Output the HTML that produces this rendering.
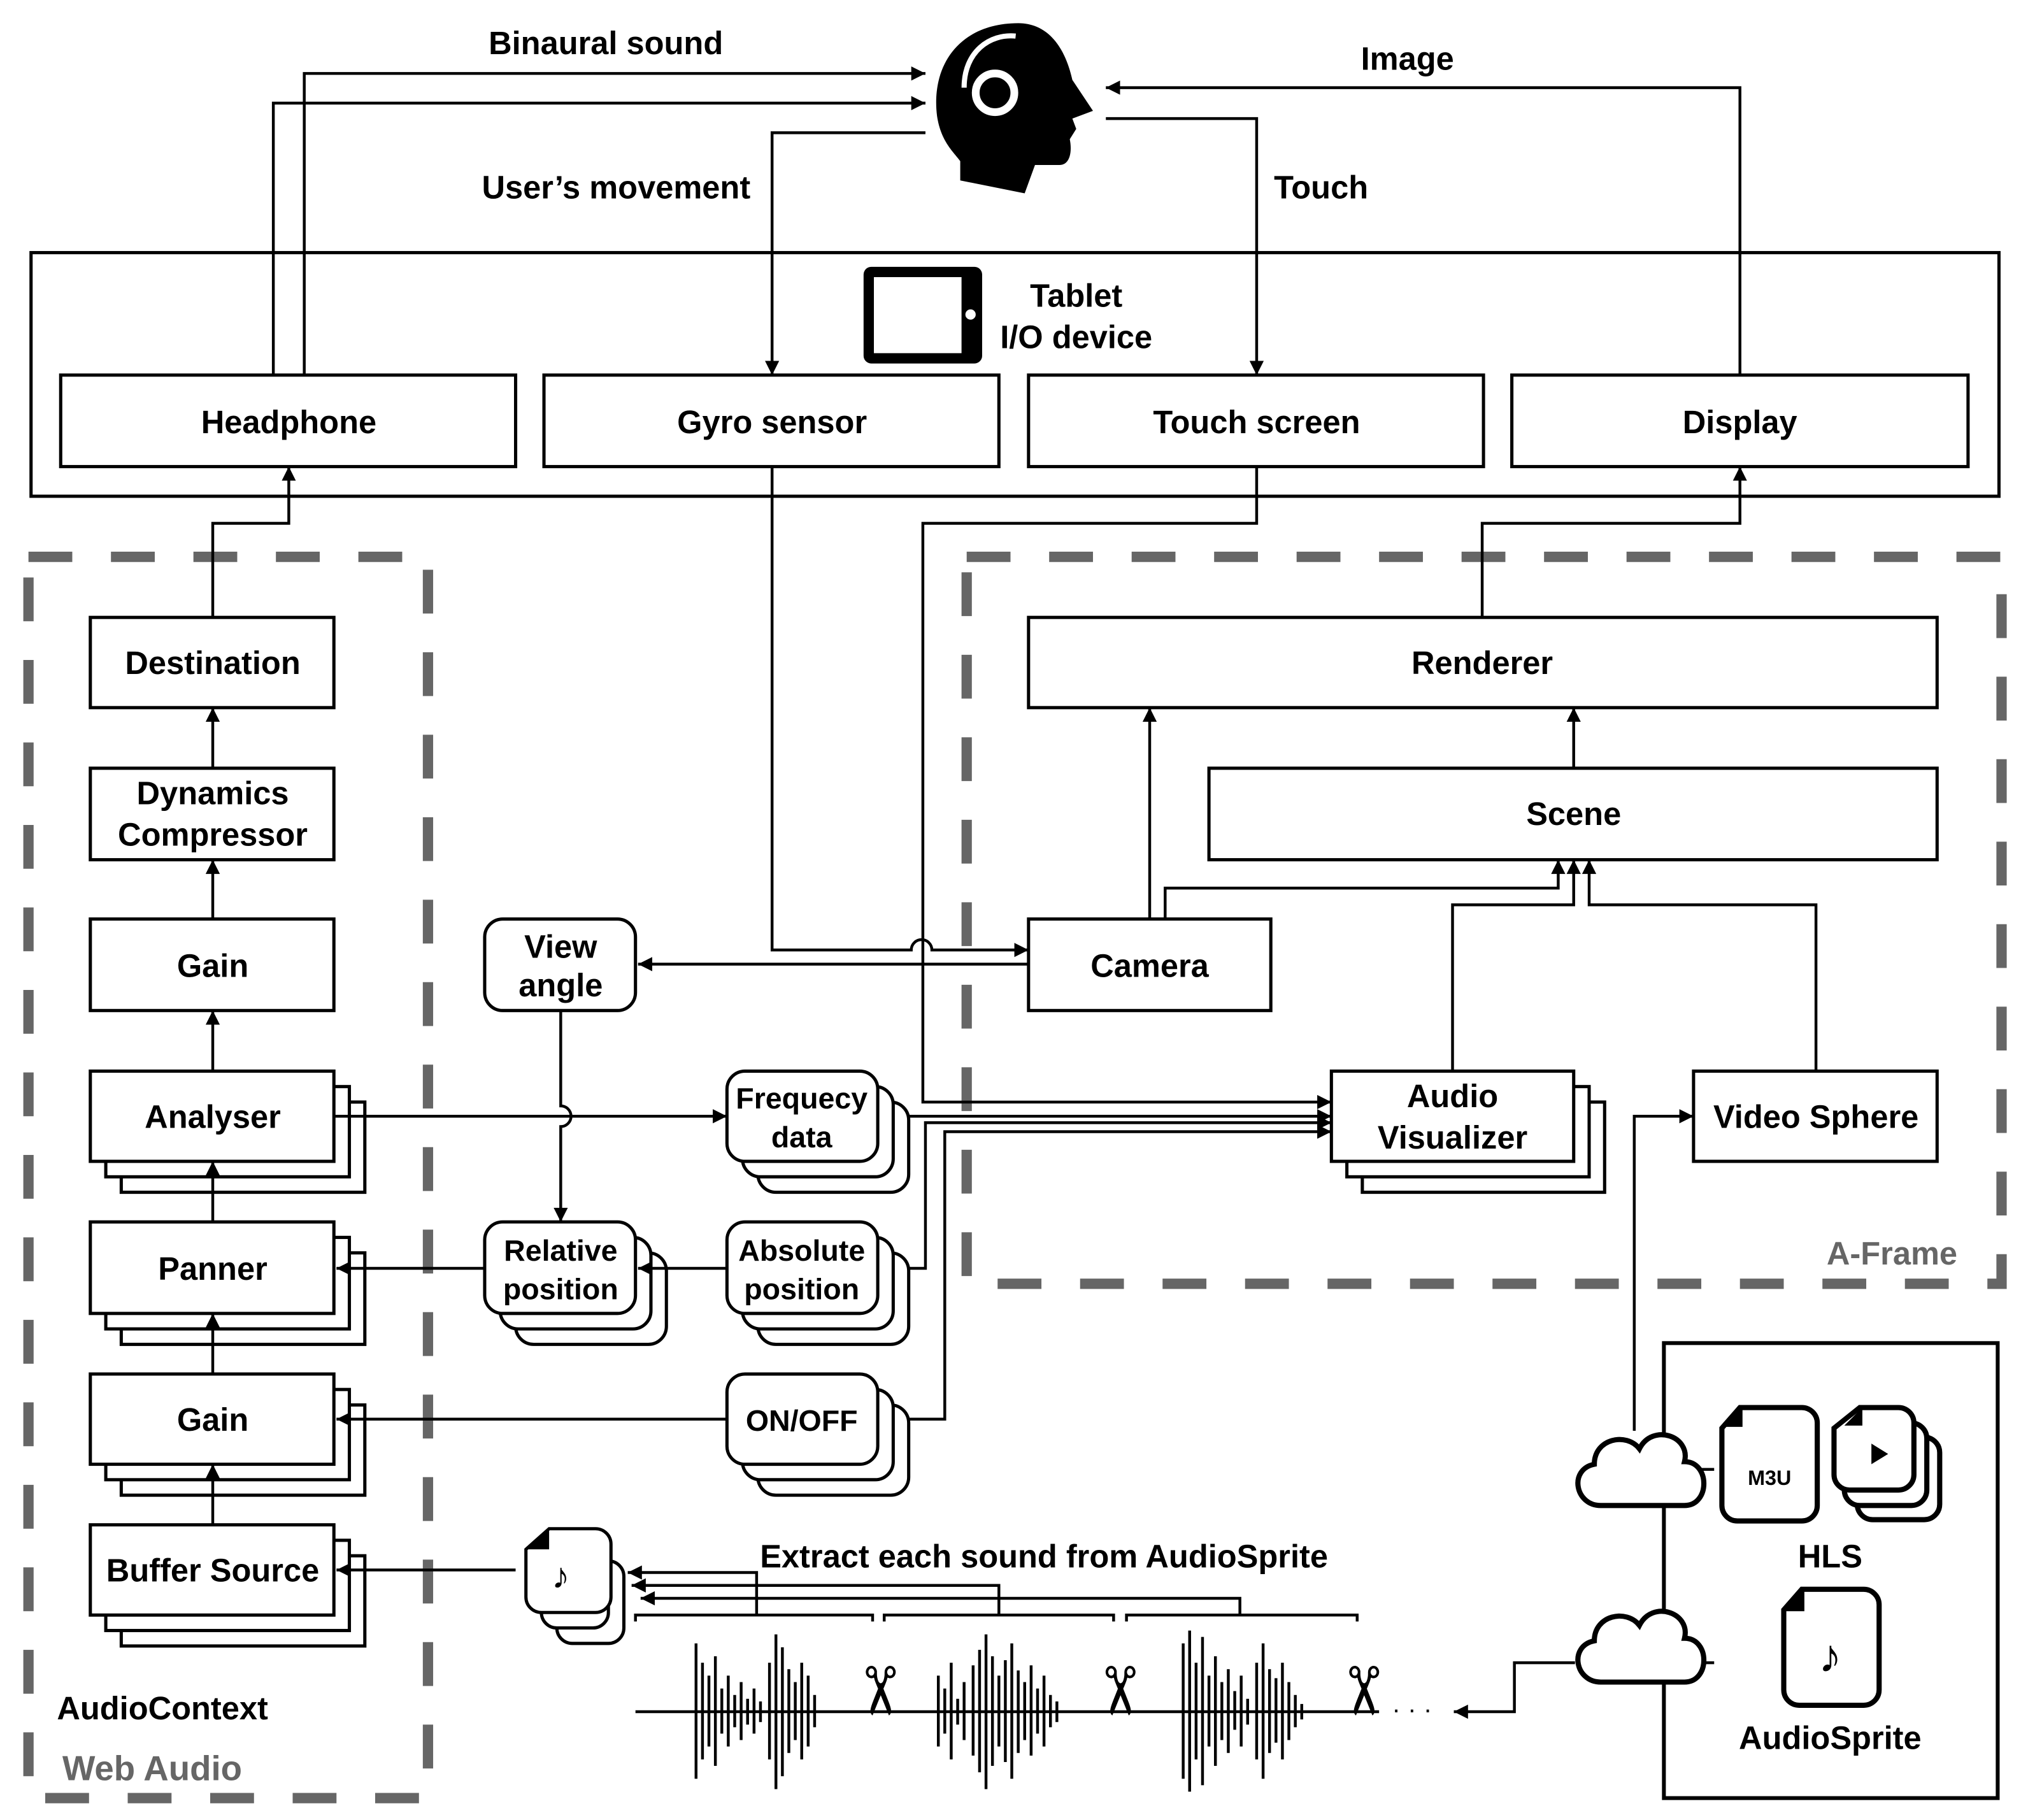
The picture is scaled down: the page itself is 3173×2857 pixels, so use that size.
<!DOCTYPE html>
<html><head><meta charset="utf-8"><style>
html,body{margin:0;padding:0;background:#fff}
svg{display:block}
text{font-family:"Liberation Sans",Arial,sans-serif;font-weight:bold;font-size:25px;fill:#000}
</style></head><body>
<svg width="3173" height="2857" viewBox="0 0 1568 1412" xmlns="http://www.w3.org/2000/svg">
<defs>
<marker id="a" viewBox="0 0 10 10" refX="10" refY="5" markerWidth="5" markerHeight="5" orient="auto"><path d="M0,0L10,5L0,10z" fill="#000"/></marker>
</defs>
<g fill="none" stroke="#000" stroke-width="2.5">
<rect x="24" y="196" width="1527" height="189"/>
<rect x="47" y="291" width="353" height="71" fill="#fff"/>
<rect x="422" y="291" width="353" height="71" fill="#fff"/>
<rect x="798" y="291" width="353" height="71" fill="#fff"/>
<rect x="1173" y="291" width="354" height="71" fill="#fff"/>
</g>
<rect x="670" y="207" width="92" height="75" rx="6" fill="#000"/>
<rect x="678" y="215" width="68" height="59" fill="#fff"/>
<circle cx="753" cy="244" r="4" fill="#fff"/>
<g fill="none" stroke="#666" stroke-width="8" stroke-dasharray="34,30">
<rect x="22" y="432" width="310" height="963"/>
<rect x="750" y="432" width="803" height="564"/>
</g>
<path d="M790,18 C745,18 722,50 727,90 C730,110 740,118 745,125 L745,140 L795,150 L803,128 L822,128 C830,128 832,118 830,108 L835,100 L832,92 L848,86 L832,62 C826,35 812,18 790,18 Z" fill="#000"/>
<path d="M748,68 C748,40 768,26 788,28" fill="none" stroke="#fff" stroke-width="4"/>
<circle cx="772" cy="72" r="15" fill="none" stroke="#fff" stroke-width="6"/>
<!-- boxes -->
<g fill="#fff" stroke="#000" stroke-width="2.5">
<rect x="70" y="479" width="189" height="70"/>
<rect x="70" y="596" width="189" height="71"/>
<rect x="70" y="713" width="189" height="71"/>
<rect x="94" y="855" width="189" height="70"/><rect x="82" y="843" width="189" height="70"/><rect x="70" y="831" width="189" height="70"/>
<rect x="94" y="972" width="189" height="71"/><rect x="82" y="960" width="189" height="71"/><rect x="70" y="948" width="189" height="71"/>
<rect x="94" y="1090" width="189" height="70"/><rect x="82" y="1078" width="189" height="70"/><rect x="70" y="1066" width="189" height="70"/>
<rect x="94" y="1207" width="189" height="70"/><rect x="82" y="1195" width="189" height="70"/><rect x="70" y="1183" width="189" height="70"/>
<rect x="376" y="713" width="117" height="71" rx="14"/>
<rect x="588" y="855" width="117" height="70" rx="14"/><rect x="576" y="843" width="117" height="70" rx="14"/><rect x="564" y="831" width="117" height="70" rx="14"/>
<rect x="400" y="972" width="117" height="71" rx="14"/><rect x="388" y="960" width="117" height="71" rx="14"/><rect x="376" y="948" width="117" height="71" rx="14"/>
<rect x="588" y="972" width="117" height="71" rx="14"/><rect x="576" y="960" width="117" height="71" rx="14"/><rect x="564" y="948" width="117" height="71" rx="14"/>
<rect x="588" y="1090" width="117" height="70" rx="14"/><rect x="576" y="1078" width="117" height="70" rx="14"/><rect x="564" y="1066" width="117" height="70" rx="14"/>
<rect x="798" y="479" width="705" height="70"/>
<rect x="938" y="596" width="565" height="71"/>
<rect x="798" y="713" width="188" height="71"/>
<rect x="1057" y="855" width="188" height="70"/><rect x="1045" y="843" width="188" height="70"/><rect x="1033" y="831" width="188" height="70"/>
<rect x="1314" y="831" width="189" height="70"/>
<path d="M432,1211h40a12,12 0 0 1 12,12v40a12,12 0 0 1-12,12h-28a12,12 0 0 1-12-12z"/>
<path d="M420,1199h40a12,12 0 0 1 12,12v40a12,12 0 0 1-12,12h-28a12,12 0 0 1-12-12z"/>
<path d="M426,1186h36a12,12 0 0 1 12,12v41a12,12 0 0 1-12,12h-42a12,12 0 0 1-12-12v-37z"/>
</g>
<path d="M408,1202l18,-16v16z" fill="#000"/>
<text x="435" y="1232" text-anchor="middle" style="font-size:28px;font-weight:normal">♪</text>
<!-- connectors -->
<g fill="none" stroke="#000" stroke-width="2.2" marker-end="url(#a)">
<polyline points="236,291 236,57 718,57"/>
<polyline points="212,291 212,80 718,80"/>
<polyline points="718,103 599,103 599,291"/>
<polyline points="858,92 975,92 975,291"/>
<polyline points="1350,291 1350,68 858,68"/>
<polyline points="165,479 165,406 224,406 224,362"/>
<polyline points="1150,479 1150,406 1350,406 1350,362"/>
<path d="M599,362 L599,737 L707,737 A8,8 0 0 1 723,737 L798,737"/>
<path d="M975,362 L975,406 L716,406 L716,855 L1033,855"/>
<polyline points="892,713 892,549"/>
<polyline points="1221,596 1221,549"/>
<polyline points="904,713 904,689 1209,689 1209,667"/>
<polyline points="1127,831 1127,702 1221,702 1221,667"/>
<polyline points="1409,831 1409,702 1233,702 1233,667"/>
<polyline points="798,748 495,748"/>
<path d="M435,784 L435,858 A8,8 0 0 1 435,874 L435,948"/>
<polyline points="259,866 564,866"/>
<polyline points="705,866 1033,866"/>
<polyline points="705,984 718,984 718,871 1033,871"/>
<polyline points="705,1101 733,1101 733,878 1033,878"/>
<polyline points="376,984 261,984"/>
<polyline points="564,984 495,984"/>
<polyline points="564,1101 261,1101"/>
<polyline points="400,1218 261,1218"/>
<polyline points="165,596 165,549"/>
<polyline points="165,713 165,667"/>
<polyline points="165,831 165,784"/>
<polyline points="165,948 165,901"/>
<polyline points="165,1066 165,1019"/>
<polyline points="165,1183 165,1136"/>
<polyline points="587,1253 587,1220 487,1220"/>
<polyline points="775,1253 775,1230 490,1230"/>
<polyline points="962,1253 962,1240 497,1240"/>
<polyline points="1268,1110 1268,866 1314,866"/>
<polyline points="1222,1290 1175,1290 1175,1328 1128,1328"/>
</g>
<g fill="none" stroke="#000" stroke-width="2.2">
<polyline points="493,1258 493,1253 677,1253 677,1258"/>
<polyline points="686,1258 686,1253 864,1253 864,1258"/>
<polyline points="874,1258 874,1253 1053,1253 1053,1258"/>
<line x1="493" y1="1328" x2="1070" y2="1328"/>
<line x1="1315" y1="1140" x2="1330" y2="1140"/>
<line x1="1315" y1="1290" x2="1330" y2="1290"/>
</g>
<g stroke="#000" stroke-width="2.2">
<path d="M540,1275V1380M545,1290V1365M550,1300V1355M555,1285V1370M560,1310V1345M565,1300V1355M570,1315V1340M575,1305V1350M580,1318V1338M585,1310V1345M590,1320V1336M597,1290V1365M602,1268V1388M607,1278V1378M612,1295V1360M617,1305V1350M622,1290V1365M627,1300V1355M632,1315V1340"/>
<path d="M728,1300V1355M733,1310V1345M738,1290V1365M743,1318V1338M748,1305V1350M755,1292V1362M760,1280V1375M765,1268V1388M770,1285V1370M775,1300V1355M780,1288V1367M785,1275V1380M790,1296V1360M795,1305V1350M800,1292V1362M805,1310V1345M810,1300V1355M815,1315V1340M820,1320V1336"/>
<path d="M918,1275V1380M923,1265V1390M928,1290V1365M933,1270V1385M938,1300V1355M943,1285V1370M948,1305V1350M953,1295V1360M958,1312V1342M963,1300V1355M968,1318V1338M975,1290V1365M980,1275V1380M985,1295V1360M990,1302V1352M995,1290V1365M1000,1305V1350M1005,1315V1340M1010,1322V1334"/>
</g>
<g style="font-size:52px;font-weight:normal" text-anchor="middle">
<text x="0" y="0" transform="translate(682,1312) rotate(90)" dominant-baseline="central" style="font-size:52px;font-weight:normal">✂</text>
<text x="0" y="0" transform="translate(868,1312) rotate(90)" dominant-baseline="central" style="font-size:52px;font-weight:normal">✂</text>
<text x="0" y="0" transform="translate(1057,1312) rotate(90)" dominant-baseline="central" style="font-size:52px;font-weight:normal">✂</text>
</g>
<text x="1080" y="1333" style="font-weight:normal;font-size:20px">· · ·</text>
<rect x="1291" y="1042" width="259" height="353" fill="none" stroke="#000" stroke-width="3"/>
<g fill="#fff" stroke="#000" stroke-width="4">
<path d="M1350,1092h48a12,12 0 0 1 12,12v64a12,12 0 0 1-12,12h-50a12,12 0 0 1-12-12v-60z"/>
<path d="M1455,1115h38a12,12 0 0 1 12,12v40a12,12 0 0 1-12,12h-40a12,12 0 0 1-12-12z"/>
<path d="M1445,1104h38a12,12 0 0 1 12,12v40a12,12 0 0 1-12,12h-40a12,12 0 0 1-12-12z"/>
<path d="M1443,1092h30a12,12 0 0 1 12,12v40a12,12 0 0 1-12,12h-38a12,12 0 0 1-12-12v-36z"/>
<path d="M1398,1233h48a12,12 0 0 1 12,12v66a12,12 0 0 1-12,12h-50a12,12 0 0 1-12-12v-62z"/>
<path d="M1242,1168c-20,0-25-28-5-32c0-20,25-25,35-12c10-20,40-10,35,10c20,0,20,34,0,34z"/>
<path d="M1242,1305c-20,0-25-28-5-32c0-20,25-25,35-12c10-20,40-10,35,10c20,0,20,34,0,34z"/>
</g>
<path d="M1338,1107l14,-15v15z M1431,1106l14,-14v14z M1384,1250l16,-17v17z" fill="#000"/>
<path d="M1452,1120l13,8l-13,8z" fill="#000"/>
<text x="1373" y="1152" text-anchor="middle" style="font-size:16px">M3U</text>
<text x="1420" y="1297" text-anchor="middle" style="font-size:36px;font-weight:normal">♪</text>
<g text-anchor="middle">
<text x="470" y="42">Binaural sound</text>
<text x="1092" y="54">Image</text>
<text x="478" y="154">User’s movement</text>
<text x="1025" y="154">Touch</text>
<text x="835" y="238">Tablet</text>
<text x="835" y="270">I/O device</text>
<text x="224" y="336">Headphone</text>
<text x="599" y="336">Gyro sensor</text>
<text x="975" y="336">Touch screen</text>
<text x="1350" y="336">Display</text>
<text x="165" y="523">Destination</text>
<text x="165" y="624">Dynamics</text>
<text x="165" y="656">Compressor</text>
<text x="165" y="758">Gain</text>
<text x="165" y="875">Analyser</text>
<text x="165" y="993">Panner</text>
<text x="165" y="1110">Gain</text>
<text x="165" y="1227">Buffer Source</text>
<text x="435" y="743">View</text>
<text x="435" y="773">angle</text>
<text x="622" y="860" style="font-size:23px">Frequecy</text>
<text x="622" y="890" style="font-size:23px">data</text>
<text x="435" y="978" style="font-size:23px">Relative</text>
<text x="435" y="1008" style="font-size:23px">position</text>
<text x="622" y="978" style="font-size:23px">Absolute</text>
<text x="622" y="1008" style="font-size:23px">position</text>
<text x="622" y="1110" style="font-size:23px">ON/OFF</text>
<text x="1150" y="523">Renderer</text>
<text x="1221" y="640">Scene</text>
<text x="892" y="758">Camera</text>
<text x="1127" y="859">Audio</text>
<text x="1127" y="891">Visualizer</text>
<text x="1409" y="875">Video Sphere</text>
<text x="810" y="1216">Extract each sound from AudioSprite</text>
<text x="1420" y="1216">HLS</text>
<text x="1420" y="1357">AudioSprite</text>
<text x="1468" y="981" style="fill:#666">A-Frame</text>
<text x="118" y="1381" style="fill:#666;font-size:27px">Web Audio</text>
<text x="126" y="1334">AudioContext</text>
</g>
</svg>
</body></html>
